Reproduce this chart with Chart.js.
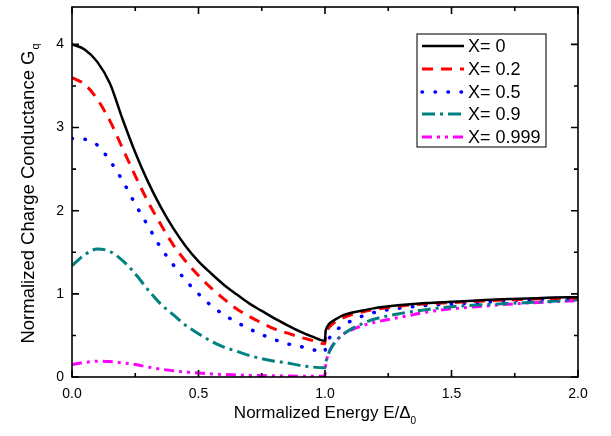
<!DOCTYPE html>
<html><head><meta charset="utf-8">
<script src="https://cdn.jsdelivr.net/npm/chart.js@4/dist/chart.umd.min.js"></script>
<style>html,body{margin:0;padding:0;background:#fff;}#wrap{width:611px;height:436px;}</style>
</head><body><div id="wrap"><canvas id="c" width="611" height="436"></canvas></div>
<script>
// ---------- data ----------
const seriesLabels = ['X= 0', 'X= 0.2', 'X= 0.5', 'X= 0.9', 'X= 0.999'];
const energyBelowGap = [0, 0.05, 0.1, 0.15, 0.2, 0.25, 0.3, 0.35, 0.4, 0.45, 0.5, 0.55, 0.6, 0.65, 0.7, 0.75, 0.8, 0.85, 0.9, 0.95, 0.999];
const energyAboveGap = [1.0, 1.002, 1.005, 1.01, 1.02, 1.04, 1.07, 1.1, 1.15, 1.2, 1.3, 1.4, 1.5, 1.6, 1.7, 1.8, 1.9, 2.0];

const gX0Below    = [4.00, 3.94, 3.79, 3.53, 3.10, 2.70, 2.35, 2.05, 1.79, 1.57, 1.39, 1.245, 1.11, 0.995, 0.885, 0.795, 0.705, 0.625, 0.55, 0.485, 0.435];
const gX0Above    = [0.435, 0.54, 0.58, 0.61, 0.65, 0.69, 0.74, 0.77, 0.80, 0.83, 0.865, 0.89, 0.905, 0.92, 0.935, 0.945, 0.955, 0.96];
const gX02Below   = [3.60, 3.52, 3.34, 3.08, 2.75, 2.42, 2.11, 1.84, 1.59, 1.39, 1.22, 1.07, 0.94, 0.82, 0.73, 0.65, 0.58, 0.53, 0.48, 0.44, 0.40];
const gX02Above   = [0.40, 0.49, 0.53, 0.57, 0.61, 0.66, 0.71, 0.745, 0.785, 0.815, 0.855, 0.88, 0.895, 0.91, 0.925, 0.935, 0.945, 0.95];
const gX05Below   = [2.87, 2.86, 2.79, 2.60, 2.36, 2.08, 1.82, 1.56, 1.35, 1.16, 1.00, 0.86, 0.75, 0.66, 0.58, 0.51, 0.45, 0.40, 0.37, 0.33, 0.30];
const gX05Above   = [0.30, 0.36, 0.39, 0.43, 0.48, 0.55, 0.62, 0.67, 0.735, 0.78, 0.83, 0.86, 0.88, 0.895, 0.915, 0.93, 0.94, 0.945];
const gX09Below   = [1.34, 1.47, 1.54, 1.51, 1.40, 1.24, 1.05, 0.88, 0.75, 0.62, 0.52, 0.43, 0.36, 0.31, 0.26, 0.22, 0.19, 0.17, 0.14, 0.12, 0.11];
const gX09Above   = [0.11, 0.16, 0.20, 0.25, 0.32, 0.42, 0.51, 0.57, 0.645, 0.70, 0.765, 0.81, 0.845, 0.865, 0.88, 0.895, 0.91, 0.93];
const gX0999Below = [0.15, 0.175, 0.19, 0.185, 0.17, 0.15, 0.12, 0.095, 0.075, 0.06, 0.047, 0.037, 0.03, 0.025, 0.02, 0.017, 0.015, 0.012, 0.01, 0.01, 0.01];
const gX0999Above = [0.01, 0.12, 0.18, 0.25, 0.33, 0.42, 0.51, 0.56, 0.62, 0.66, 0.72, 0.78, 0.82, 0.845, 0.87, 0.89, 0.905, 0.92];

const xTickValues = [0, 0.5, 1, 1.5, 2];
const xMinorTickValues = [0.25, 0.75, 1.25, 1.75];
const yTickValues = [0, 1, 2, 3, 4];
const yMinorTickValues = [0.5, 1.5, 2.5, 3.5];

// ---------- build ----------
function pts(below, above) {
  const out = [];
  energyBelowGap.forEach((e, i) => out.push({x: e, y: below[i]}));
  energyAboveGap.forEach((e, i) => out.push({x: e, y: above[i]}));
  return out;
}
const styles = [
  {color: '#000000', dash: [], width: 2.5, cap: 'butt'},
  {color: '#ff0000', dash: [11, 8], width: 3, cap: 'butt'},
  {color: '#0000ff', dash: [0.5, 12.5], width: 3.5, cap: 'round'},
  {color: '#008080', dash: [13, 5, 3, 5], width: 3, cap: 'butt'},
  {color: '#ff00ff', dash: [10, 5, 3, 5, 3, 5], width: 3, cap: 'butt'}
];
const seriesValues = [
  [gX0Below, gX0Above], [gX02Below, gX02Above], [gX05Below, gX05Above],
  [gX09Below, gX09Above], [gX0999Below, gX0999Above]
];
const datasets = seriesLabels.map((lab, i) => ({
  label: lab,
  data: pts(seriesValues[i][0], seriesValues[i][1]),
  borderColor: styles[i].color,
  backgroundColor: styles[i].color,
  borderDash: styles[i].dash,
  borderWidth: styles[i].width,
  borderCapStyle: styles[i].cap,
  pointRadius: 0,
  fill: false,
  cubicInterpolationMode: 'monotone'
}));

const FONT = "'Liberation Sans', Arial, Helvetica, sans-serif";

const framePlugin = {
  id: 'frame',
  afterDatasetsDraw(chart) {
    const {ctx, chartArea: a, scales: {x, y}} = chart;
    ctx.save();
    ctx.strokeStyle = '#000';
    ctx.lineWidth = 1.6;
    ctx.setLineDash([]);
    ctx.strokeRect(a.left, a.top, a.right - a.left, a.bottom - a.top);
    const major = 7, minor = 4;
    ctx.beginPath();
    const xt = (v, len) => {
      const px = x.getPixelForValue(v);
      ctx.moveTo(px, a.bottom); ctx.lineTo(px, a.bottom - len);
      ctx.moveTo(px, a.top); ctx.lineTo(px, a.top + len);
    };
    const yt = (v, len) => {
      const py = y.getPixelForValue(v);
      ctx.moveTo(a.left, py); ctx.lineTo(a.left + len, py);
      ctx.moveTo(a.right, py); ctx.lineTo(a.right - len, py);
    };
    xTickValues.forEach(v => xt(v, major));
    xMinorTickValues.forEach(v => xt(v, minor));
    yTickValues.forEach(v => yt(v, major));
    yMinorTickValues.forEach(v => yt(v, minor));
    ctx.stroke();
    ctx.restore();
  },
  afterDraw(chart) {
    const {ctx, chartArea: a} = chart;
    ctx.save();
    ctx.fillStyle = '#000';
    // y title with subscript
    const yMain = 'Normalized Charge Conductance G', ySub = 'q';
    const yF = 18.5, ySF = 11;
    ctx.font = yF + 'px ' + FONT;
    const w1 = ctx.measureText(yMain).width;
    ctx.font = ySF + 'px ' + FONT;
    const w2 = ctx.measureText(ySub).width;
    ctx.translate(29, (a.top + a.bottom) / 2 + 2);
    ctx.rotate(-Math.PI / 2);
    ctx.textBaseline = 'middle';
    ctx.textAlign = 'left';
    const sx = -(w1 + w2) / 2;
    ctx.font = yF + 'px ' + FONT;
    ctx.fillText(yMain, sx, 0);
    ctx.font = ySF + 'px ' + FONT;
    ctx.fillText(ySub, sx + w1 + 1, 7);
    ctx.restore();

    // x title with subscript
    ctx.save();
    ctx.fillStyle = '#000';
    const xMain = 'Normalized Energy E/\u0394', xSub = '0';
    ctx.font = '17px ' + FONT;
    const v1 = ctx.measureText(xMain).width;
    ctx.font = '10px ' + FONT;
    const v2 = ctx.measureText(xSub).width;
    const cx = (a.left + a.right) / 2;
    ctx.textBaseline = 'middle';
    ctx.textAlign = 'left';
    ctx.font = '17px ' + FONT;
    ctx.fillText(xMain, cx - (v1 + v2) / 2, 413);
    ctx.font = '10px ' + FONT;
    ctx.fillText(xSub, cx - (v1 + v2) / 2 + v1, 421);
    ctx.restore();

    // legend
    ctx.save();
    const bx = 417, by = 34, bw = 129, bh = 113;
    ctx.fillStyle = '#fff';
    ctx.fillRect(bx, by, bw, bh);
    ctx.strokeStyle = '#222';
    ctx.lineWidth = 1.2;
    ctx.strokeRect(bx, by, bw, bh);
    const rowY = [46, 69, 92, 114, 137];
    chart.data.datasets.forEach((ds, i) => {
      ctx.beginPath();
      ctx.strokeStyle = ds.borderColor;
      ctx.lineWidth = ds.borderWidth;
      ctx.setLineDash(ds.borderDash);
      ctx.lineCap = ds.borderCapStyle;
      ctx.moveTo(422, rowY[i]);
      ctx.lineTo(464, rowY[i]);
      ctx.stroke();
      ctx.setLineDash([]);
      ctx.fillStyle = '#000';
      ctx.font = '18px ' + FONT;
      ctx.textBaseline = 'middle';
      ctx.textAlign = 'left';
      ctx.fillText(ds.label, 468, rowY[i] + 1);
    });
    ctx.restore();
  }
};

new Chart(document.getElementById('c'), {
  type: 'line',
  data: {datasets},
  options: {
    responsive: false,
    animation: false,
    devicePixelRatio: 1,
    layout: {padding: {top: 7, right: 33, left: 0, bottom: 0}},
    plugins: {legend: {display: false}, tooltip: {enabled: false}},
    scales: {
      x: {
        type: 'linear', min: 0, max: 2,
        grid: {display: false, drawTicks: false},
        border: {display: false},
        afterBuildTicks: s => { s.ticks = xTickValues.map(v => ({value: v})); },
        afterFit: s => { s.height = 59; s.paddingLeft = 0; s.paddingRight = 0; },
        ticks: {
          padding: 9, color: '#000', font: {family: FONT, size: 14},
          maxRotation: 0, autoSkip: false,
          callback: v => Number(v).toFixed(1)
        }
      },
      y: {
        type: 'linear', min: 0, max: 4.45,
        grid: {display: false, drawTicks: false},
        border: {display: false},
        afterBuildTicks: s => { s.ticks = yTickValues.map(v => ({value: v})); },
        afterFit: s => { s.width = 72; s.paddingTop = 0; s.paddingBottom = 0; },
        ticks: {
          padding: 8, color: '#000', font: {family: FONT, size: 14},
          autoSkip: false,
          callback: v => String(v)
        }
      }
    }
  },
  plugins: [framePlugin]
});
</script>
</body></html>
